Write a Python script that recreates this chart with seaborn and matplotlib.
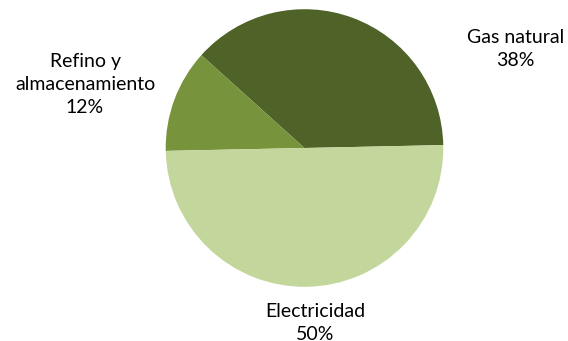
import matplotlib
matplotlib.use("Agg")
import matplotlib.pyplot as plt
import seaborn as sns

categories = ["Gas natural", "Refino y\nalmacenamiento", "Electricidad"]
values = [38, 12, 50]
colors = ["#4F6228", "#77933C", "#C3D69B"]

sns.set_theme(style="white")
plt.rcParams['font.family'] = ['Lato', 'DejaVu Sans']

W, H = 568, 341
fig = plt.figure(figsize=(W / 100, H / 100), dpi=100)
cx, cy, r = 304.5, 148.0, 138.8
ax = fig.add_axes([(cx - r) / W, (H - cy - r) / H, 2 * r / W, 2 * r / H])
ax.pie(values, colors=colors, startangle=1.2, counterclock=True, radius=1,
       wedgeprops=dict(linewidth=0))
ax.set_xlim(-1, 1)
ax.set_ylim(-1, 1)
ax.set_aspect('equal')
ax.axis('off')

label_pos = [(515.5, 49), (85, 84.5), (315.5, 323)]
for cat, v, (x, y) in zip(categories, values, label_pos):
    fig.text(x / W, 1 - y / H, f"{cat}\n{v}%", ha='center', va='center',
             fontsize=14, color='#000000', linespacing=1.42)

fig.savefig("out.png", dpi=100)
